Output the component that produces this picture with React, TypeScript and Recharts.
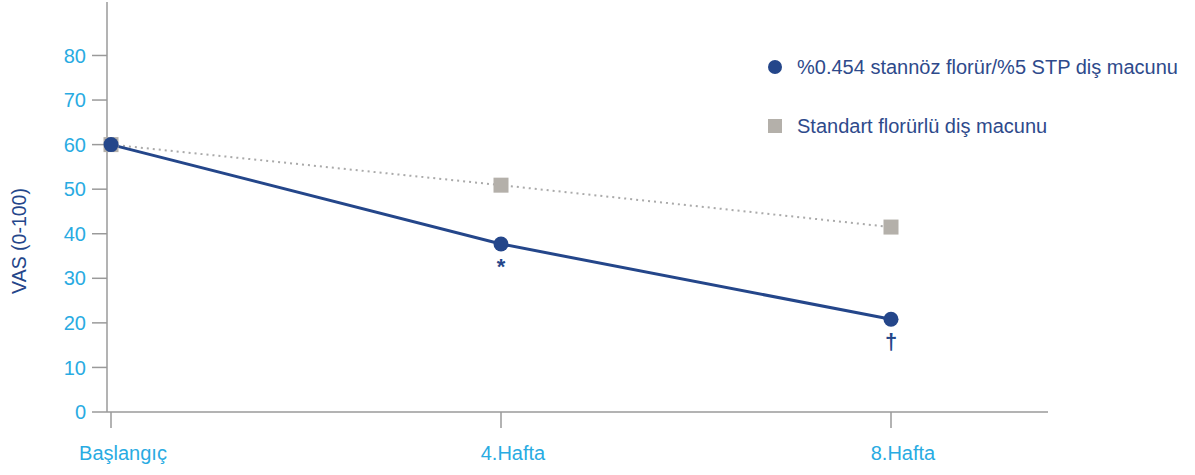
import { LineChart, Line, XAxis, YAxis, LabelList } from "recharts"

const categories = ["Başlangıç", "4.Hafta", "8.Hafta"]
const stannous = [60, 37.7, 20.8]
const standard = [60, 50.9, 41.5]
const marks = ["", "*", "†"]
const yTicks = [0, 10, 20, 30, 40, 50, 60, 70, 80]

const seriesNames = {
  stannous: "%0.454 stannöz florür/%5 STP diş macunu",
  standard: "Standart florürlü diş macunu",
}

const data = categories.map((c, i) => ({
  name: c,
  stannous: stannous[i],
  standard: standard[i],
  mark: marks[i],
}))

const BLUE = "#24468a"
const LIGHT = "#29abe2"
const GRAY = "#b4b0aa"
const FONT = "'Liberation Sans', Arial, sans-serif"

const SquareDot = (props: any) => {
  const { cx, cy } = props
  if (cx == null || cy == null) return null
  return <rect x={cx - 7.5} y={cy - 7.5} width={15} height={15} fill={GRAY} />
}

const MarkLabel = (props: any) => {
  const { x, y, value } = props
  if (!value) return null
  return (
    <text x={x} y={y + 30} textAnchor="middle" fill={BLUE} fontSize={22} fontWeight="bold" fontFamily={FONT}>
      {value}
    </text>
  )
}

const LegendBox = () => (
  <div style={{ position: "absolute", left: 768, top: 54, fontFamily: FONT, fontSize: 20, color: "#2e4a8b", whiteSpace: "nowrap" }}>
    <div style={{ display: "flex", alignItems: "center", height: 26 }}>
      <span style={{ width: 14, height: 14, borderRadius: 7, background: BLUE, display: "inline-block", marginRight: 15 }} />
      {seriesNames.stannous}
    </div>
    <div style={{ display: "flex", alignItems: "center", height: 26, marginTop: 33 }}>
      <span style={{ width: 14, height: 14, background: GRAY, display: "inline-block", marginRight: 15 }} />
      {seriesNames.standard}
    </div>
  </div>
)

export default function App() {
  return (
    <div style={{ position: "absolute", left: 0, top: 0, width: 1195, height: 475, background: "#fff" }}>
      <LineChart width={1195} height={475} data={data} margin={{ top: 2, right: 147, bottom: 0, left: 0 }}>
        <XAxis
          dataKey="name"
          height={63}
          padding={{ left: 4, right: 157 }}
          axisLine={{ stroke: "#9a9a9a", strokeWidth: 1.5 }}
          tickLine={{ stroke: "#9a9a9a", strokeWidth: 1.5 }}
          tickSize={16}
          tickMargin={18}
          tick={{ fill: LIGHT, fontSize: 20, fontFamily: FONT, dx: 12 }}
          interval={0}
        />
        <YAxis
          domain={[0, 92]}
          ticks={yTicks}
          width={107}
          axisLine={{ stroke: "#9a9a9a", strokeWidth: 1.5 }}
          tickLine={{ stroke: "#9a9a9a", strokeWidth: 1.5 }}
          tickSize={15}
          tickMargin={6}
          tick={{ fill: LIGHT, fontSize: 20, fontFamily: FONT }}
        />
        <text
          x={19}
          y={241}
          transform="rotate(-90 19 241)"
          textAnchor="middle"
          dominantBaseline="central"
          fill={BLUE}
          fontSize={19.5}
          fontFamily={FONT}
        >
          VAS (0-100)
        </text>
        <Line
          dataKey="standard"
          name={seriesNames.standard}
          stroke="#aaaaaa"
          strokeWidth={2}
          strokeDasharray="2 4"
          dot={<SquareDot />}
          activeDot={false}
          isAnimationActive={false}
        />
        <Line
          dataKey="stannous"
          name={seriesNames.stannous}
          stroke={BLUE}
          strokeWidth={3}
          dot={{ r: 7.5, fill: BLUE, stroke: BLUE, strokeWidth: 0 }}
          activeDot={false}
          isAnimationActive={false}
        >
          <LabelList dataKey="mark" content={<MarkLabel />} />
        </Line>
      </LineChart>
      <LegendBox />
    </div>
  )
}
